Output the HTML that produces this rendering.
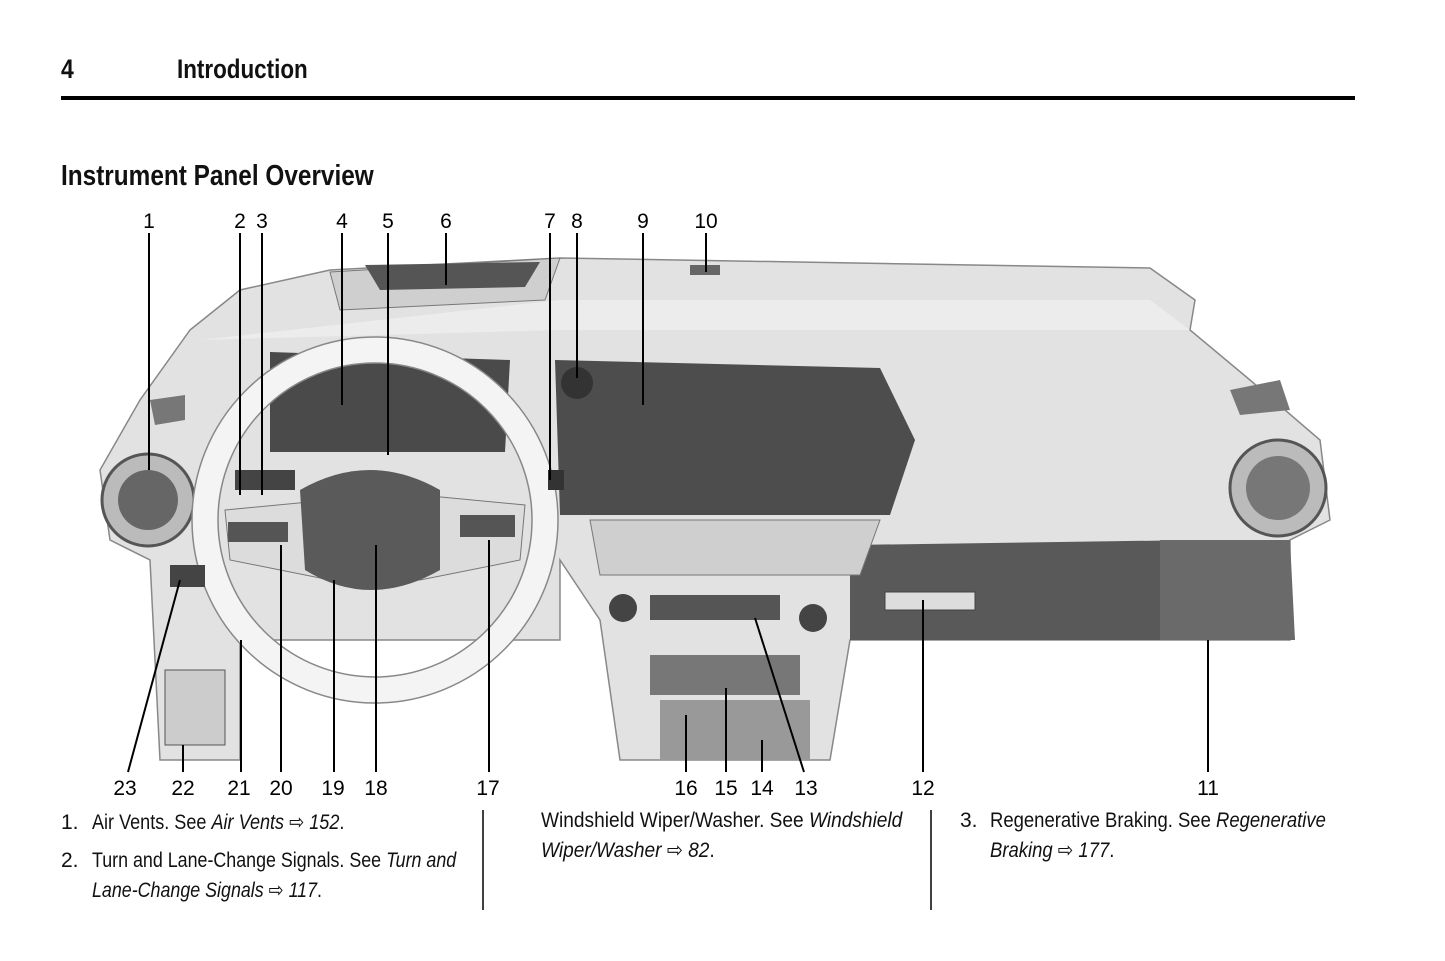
<!DOCTYPE html>
<html><head><meta charset="utf-8"><style>
body{margin:0;background:#fff;width:1445px;height:961px;overflow:hidden;position:relative;font-family:"Liberation Sans Narrow","Liberation Sans",sans-serif;color:#111}
.a{position:absolute;white-space:nowrap;transform-origin:0 0}
.t{font-size:21px;line-height:30px}
i{font-style:italic}
</style></head><body>
<div class="a" style="left:61px;top:54px;font-size:27px;font-weight:bold;transform:scaleX(0.85)">4</div>
<div class="a" style="left:177px;top:54px;font-size:27px;font-weight:bold;transform:scaleX(0.83)">Introduction</div>
<div class="a" style="left:61px;top:96px;width:1294px;height:4px;background:#000"></div>
<div class="a" style="left:61px;top:160px;font-size:29px;font-weight:bold;transform:scaleX(0.84)">Instrument Panel Overview</div>

<svg class="a" style="left:0;top:0" width="1445" height="961">
<g fill="#e2e2e2" stroke="#888" stroke-width="1.5">
<path d="M190 330 L240 290 L330 270 L560 258 L1150 268 L1195 300 L1190 330 L1250 380 L1320 440 L1330 520 L1290 540 L1290 640 L1160 640 L850 640 L830 760 L620 760 L600 620 L560 560 L560 640 L240 640 L240 760 L160 760 L150 560 L110 540 L100 470 L140 400 Z"/>
</g>
<path d="M200 340 L560 300 L1150 300 L1190 330 L560 330 Z" fill="#ececec"/>
<path d="M330 272 L560 258 L545 300 L340 310 Z" fill="#cfcfcf" stroke="#777"/>
<path d="M365 265 L540 262 L525 287 L380 290 Z" fill="#555"/>
<path d="M270 352 L510 360 L505 452 L270 452 Z" fill="#4a4a4a"/>
<path d="M555 360 L880 368 L915 440 L890 515 L560 515 Z" fill="#4d4d4d"/>
<path d="M850 545 L1200 540 L1290 540 L1290 640 L850 640 Z" fill="#595959"/>
<path d="M1160 540 L1290 540 L1295 640 L1160 640 Z" fill="#6a6a6a"/>
<rect x="885" y="592" width="90" height="18" fill="#ddd" stroke="#444"/>
<path d="M590 520 L880 520 L860 575 L600 575 Z" fill="#cfcfcf" stroke="#777"/>
<rect x="650" y="595" width="130" height="25" fill="#555"/>
<circle cx="623" cy="608" r="14" fill="#444"/><circle cx="813" cy="618" r="14" fill="#444"/>
<rect x="650" y="655" width="150" height="40" fill="#777"/>
<rect x="660" y="700" width="150" height="60" fill="#999"/>
<circle cx="577" cy="383" r="16" fill="#333"/>
<circle cx="148" cy="500" r="46" fill="#bbb" stroke="#555" stroke-width="3"/>
<circle cx="148" cy="500" r="30" fill="#666"/>
<circle cx="1278" cy="488" r="48" fill="#bbb" stroke="#555" stroke-width="3"/>
<circle cx="1278" cy="488" r="32" fill="#777"/>
<path d="M1230 390 L1280 380 L1290 410 L1240 415 Z" fill="#777"/>
<path d="M150 400 L185 395 L185 420 L155 425 Z" fill="#777"/>
<circle cx="375" cy="520" r="170" fill="none" stroke="#f4f4f4" stroke-width="26"/>
<circle cx="375" cy="520" r="183" fill="none" stroke="#888" stroke-width="1.5"/>
<circle cx="375" cy="520" r="157" fill="none" stroke="#888" stroke-width="1.5"/>
<path d="M225 510 L330 500 L420 495 L525 505 L520 560 L420 580 L330 580 L230 560 Z" fill="#dcdcdc" stroke="#777"/>
<path d="M300 490 Q370 450 440 490 L440 570 Q370 610 305 570 Z" fill="#5a5a5a"/>
<rect x="228" y="522" width="60" height="20" fill="#555"/><rect x="460" y="515" width="55" height="22" fill="#555"/>
<rect x="235" y="470" width="60" height="20" fill="#444"/>
<rect x="165" y="670" width="60" height="75" fill="#ccc" stroke="#555"/>
<rect x="170" y="565" width="35" height="22" fill="#444"/>
<rect x="548" y="470" width="16" height="20" fill="#333"/>
<rect x="690" y="265" width="30" height="10" fill="#666"/>
<g stroke="#000" stroke-width="2">
<line x1="149" y1="233" x2="149" y2="470"/><line x1="240" y1="233" x2="240" y2="495"/><line x1="262" y1="233" x2="262" y2="495"/>
<line x1="342" y1="233" x2="342" y2="405"/><line x1="388" y1="233" x2="388" y2="455"/><line x1="446" y1="233" x2="446" y2="285"/>
<line x1="550" y1="233" x2="550" y2="480"/><line x1="577" y1="233" x2="577" y2="378"/><line x1="643" y1="233" x2="643" y2="405"/>
<line x1="706" y1="233" x2="706" y2="272"/>
<line x1="128" y1="772" x2="180" y2="580"/><line x1="183" y1="772" x2="183" y2="745"/><line x1="241" y1="772" x2="241" y2="640"/>
<line x1="281" y1="772" x2="281" y2="545"/><line x1="334" y1="772" x2="334" y2="580"/><line x1="376" y1="772" x2="376" y2="545"/>
<line x1="489" y1="772" x2="489" y2="540"/><line x1="686" y1="772" x2="686" y2="715"/><line x1="726" y1="772" x2="726" y2="688"/>
<line x1="762" y1="772" x2="762" y2="740"/><line x1="804" y1="772" x2="755" y2="618"/><line x1="923" y1="772" x2="923" y2="600"/>
<line x1="1208" y1="772" x2="1208" y2="640"/>
<line x1="483" y1="810" x2="483" y2="910" stroke-width="1.5"/><line x1="931" y1="810" x2="931" y2="910" stroke-width="1.5"/>
</g>
<g font-family="Liberation Sans,sans-serif" font-size="21" text-anchor="middle" fill="#000">
<text x="149" y="228">1</text><text x="240" y="228">2</text><text x="262" y="228">3</text><text x="342" y="228">4</text><text x="388" y="228">5</text><text x="446" y="228">6</text><text x="550" y="228">7</text><text x="577" y="228">8</text><text x="643" y="228">9</text><text x="706" y="228">10</text>
<text x="125" y="795">23</text><text x="183" y="795">22</text><text x="239" y="795">21</text><text x="281" y="795">20</text><text x="333" y="795">19</text><text x="376" y="795">18</text><text x="488" y="795">17</text><text x="686" y="795">16</text><text x="726" y="795">15</text><text x="762" y="795">14</text><text x="806" y="795">13</text><text x="923" y="795">12</text><text x="1208" y="795">11</text>
</g>
</svg>

<div class="a t" style="left:61px;top:808px">1.</div>
<div class="a t" style="left:92px;top:808px;transform:scaleX(0.86)">Air Vents. See <i>Air Vents</i> ⇨ <i>152</i>.</div>
<div class="a t" style="left:61px;top:846px">2.</div>
<div class="a t" style="left:92px;top:846px;transform:scaleX(0.85)">Turn and Lane-Change Signals. See <i>Turn and</i><br><i>Lane-Change Signals</i> ⇨ <i>117</i>.</div>
<div class="a t" style="left:541px;top:806px;transform:scaleX(0.91)">Windshield Wiper/Washer. See <i>Windshield</i><br><i>Wiper/Washer</i> ⇨ <i>82</i>.</div>
<div class="a t" style="left:960px;top:806px">3.</div>
<div class="a t" style="left:990px;top:806px;transform:scaleX(0.88)">Regenerative Braking. See <i>Regenerative</i><br><i>Braking</i> ⇨ <i>177</i>.</div>
</body></html>
